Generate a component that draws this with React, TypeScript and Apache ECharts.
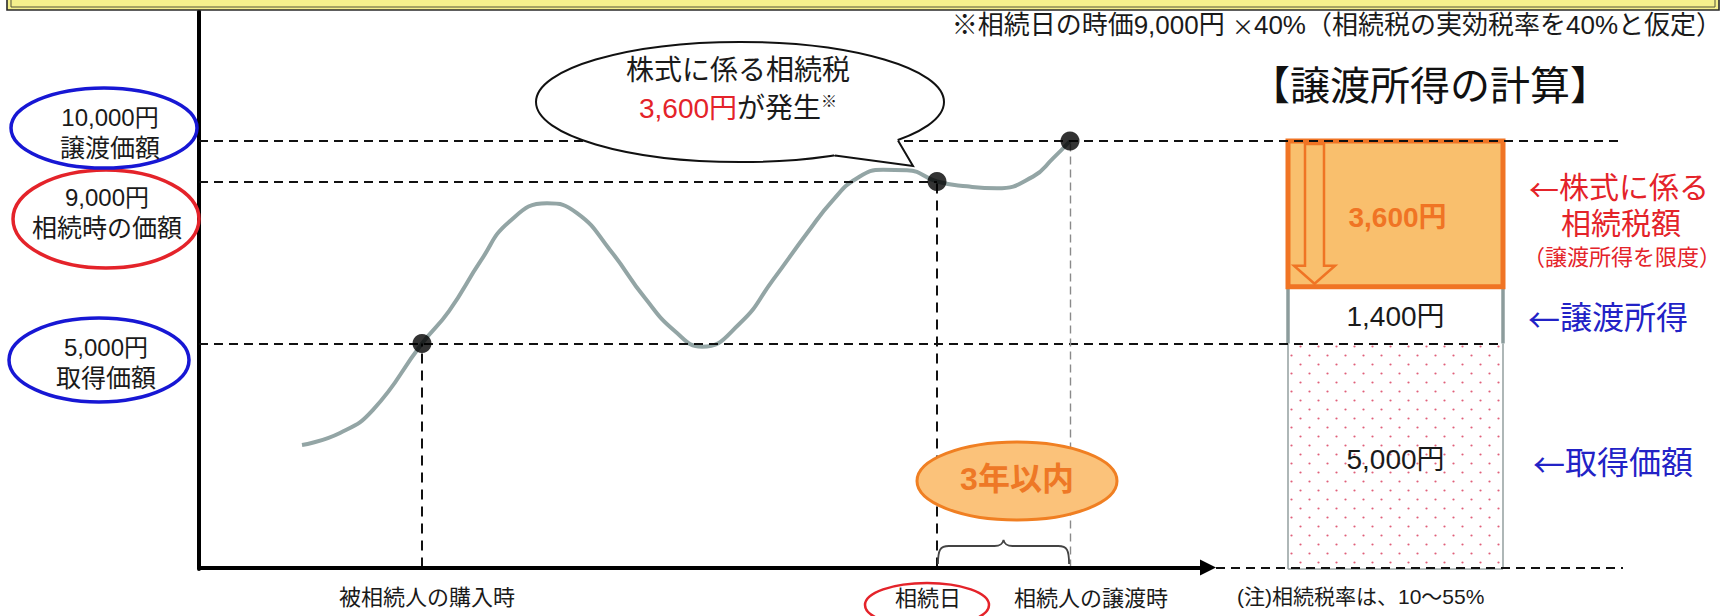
import { useEffect, useRef } from 'react';
import * as echarts from 'echarts';

// ---- data -------------------------------------------------------------
// Share price path over time (time in arbitrary units, price in yen)
const CURVE_T = [10.3, 14.1, 17.4, 22.3, 25.0, 28.2, 31.0, 34.8, 37.8, 41.1, 44.6, 47.6, 50.3, 54.1, 57.4, 60.8, 63.4, 65.8, 68.4, 70.8, 73.8, 76.8, 79.8, 83.4, 85.4, 87.1];
const CURVE_V = [2490, 2790, 3360, 5000, 5800, 7050, 8000, 8460, 8220, 7310, 6120, 5300, 4920, 5500, 6570, 7720, 8540, 9080, 9290, 9280, 9000, 8880, 8830, 9120, 9570, 10000];

// Purchase by the deceased, date of inheritance, sale by the heir
const EVENT_NAMES = ['被相続人の購入時', '相続日', '相続人の譲渡時'];
const EVENT_T = [22.3, 73.8, 87.1];
const EVENT_V = [5000, 9000, 10000];
const PRICE_NAMES = ['取得価額', '相続時の価額', '譲渡価額'];

// Breakdown of the sale price (bottom to top)
const PART_NAMES = ['取得価額', '譲渡所得', '株式に係る\n相続税額'];
const PART_V = [5000, 1400, 3600];

const TITLE = '【譲渡所得の計算】';
const TAX_NOTE_HEAD = '※相続日の時価9,000円 ';
const TAX_NOTE_TAIL = '40%（相続税の実効税率を40%と仮定）';
const RATE_NOTE = '(注)相続税率は、10〜55%';
const LIMIT_NOTE = '（譲渡所得を限度）';
const PERIOD = '3年以内';
const BUBBLE_LINE1 = '株式に係る相続税';
const BUBBLE_LINE2 = 'が発生';

// ---- layout -----------------------------------------------------------
// Latin glyphs come from Liberation Sans, Japanese from Noto Sans CJK JP
const FONT = '"Liberation Sans", "Noto Sans CJK JP", sans-serif';
const CJK = '"Noto Sans CJK JP", sans-serif';
const Y_MIN = -570;
const Y_MAX = 13200;
const X_MAX = 150;
const GRID = { left: 199, right: 27, top: 11.4, bottom: 47 };
const BAR_X = [108.9, 130.4];
const LONG_GUIDE_END = 142.4;
const ACQ_GUIDE_END = 130.1;
const ARROW_END = 100.9;
const BASE_V = Y_MIN + 40; // level of the time axis

const BLUE = '#1717d4';
const RED = '#e4232a';
const ORANGE = '#f07424';
const ORANGE_FILL = '#f9bf6d';
const TEXT_BLUE = '#2222c6';

const BRACE_D = 'M1,24 C1,10 3,6 12,6 L58,6 C64,6 66,4 67,0 C68,4 70,6 76,6 L122,6 C131,6 133,10 133,24';
echarts.graphic.registerShape('brace', echarts.graphic.extendPath(BRACE_D, {}));

const yen = (v: number) => String(v).replace(/\B(?=(\d{3})+(?!\d))/g, ',') + '円';

function dotPattern() {
  const c = document.createElement('canvas');
  c.width = 18;
  c.height = 18;
  const ctx = c.getContext('2d')!;
  ctx.fillStyle = '#e0607a';
  [[4.5, 4.5], [13.5, 13.5]].forEach(([x, y]) => {
    ctx.beginPath();
    ctx.arc(x, y, 1.1, 0, Math.PI * 2);
    ctx.fill();
  });
  return c;
}

function seg(a: number[], b: number[], style: any, endSymbol = 'none', endSize: any = 0) {
  return [
    { coord: a, symbol: 'none', lineStyle: style },
    { coord: b, symbol: endSymbol, symbolSize: endSize },
  ];
}

function labelText(x: number, y: number, text: string, fill: string, fontSize: number, extra: any = {}) {
  return {
    type: 'text', x, y, z2: 10,
    style: { text, fill, fontSize, fontFamily: FONT, align: 'center', verticalAlign: 'middle', ...extra },
  };
}

// label with a full-width leading arrow pointing back at the bar
function arrowLabel(x: number, y: number, text: string, fill: string, fontSize: number) {
  return {
    type: 'text', x, y, z2: 10,
    style: {
      text: `{a|←}{t|${text}}`,
      align: 'center',
      verticalAlign: 'middle',
      rich: {
        a: { fill, fontSize, fontFamily: CJK },
        t: { fill, fontSize, fontFamily: FONT },
      },
    },
  };
}

function buildOption() {
  const dash = { color: '#111', width: 2.2, type: [9, 6] };
  const dashV = { color: '#111', width: 2, type: [10, 7] };
  const dashGray = { color: '#8a8a8a', width: 1.4, type: [8, 5] };
  const axisStyle = { color: '#000', width: 4, type: 'solid' };
  const pattern = dotPattern();

  const guides = {
    type: 'line',
    data: EVENT_T.map((t, i) => [t, EVENT_V[i]]),
    showSymbol: false,
    lineStyle: { opacity: 0 },
    silent: true,
    z: 1,
    markLine: {
      silent: true,
      symbol: ['none', 'none'],
      label: { show: false },
      emphasis: { disabled: true },
      data: [
        seg([0, EVENT_V[2]], [LONG_GUIDE_END, EVENT_V[2]], dash),
        seg([0, EVENT_V[1]], [EVENT_T[1], EVENT_V[1]], dash),
        seg([0, EVENT_V[0]], [ACQ_GUIDE_END, EVENT_V[0]], dash),
        seg([EVENT_T[0], BASE_V], [EVENT_T[0], EVENT_V[0]], dashV),
        seg([EVENT_T[1], BASE_V], [EVENT_T[1], EVENT_V[1]], dashV),
        seg([EVENT_T[2], BASE_V], [EVENT_T[2], EVENT_V[2]], dashGray),
        seg([ARROW_END + 0.8, BASE_V], [LONG_GUIDE_END, BASE_V], dash),
        seg([0, BASE_V], [ARROW_END, BASE_V], axisStyle, 'triangle', [16, 16]),
      ],
    },
  };

  const curve = {
    type: 'line',
    data: CURVE_T.map((t, i) => [t, CURVE_V[i]]),
    smooth: 0.5,
    showSymbol: false,
    silent: true,
    lineStyle: { color: '#93a5a5', width: 4 },
    z: 3,
  };

  const dots = {
    type: 'scatter',
    data: EVENT_T.map((t, i) => [t, EVENT_V[i]]),
    symbolSize: 19,
    itemStyle: { color: '#000' },
    silent: true,
    z: 5,
  };

  const breakdown = {
    type: 'custom',
    coordinateSystem: 'cartesian2d',
    data: PART_V.map((v) => [BAR_X[0], v]),
    silent: true,
    z: 4,
    renderItem: (params: any, api: any) => {
      const i = params.dataIndex;
      const base = PART_V.slice(0, i).reduce((a, b) => a + b, 0);
      const lo = i === 0 ? Y_MIN : base;
      const hi = base + PART_V[i];
      const tl = api.coord([BAR_X[0], hi]);
      const br = api.coord([BAR_X[1], lo]);
      const x = tl[0];
      const y = tl[1];
      const w = br[0] - tl[0];
      const h = br[1] - tl[1];
      const cx = x + w / 2;
      const cy = y + h / 2;
      const children: any[] = [];
      if (i === 0) {
        children.push({ type: 'rect', shape: { x, y, width: w, height: h }, style: { fill: { image: pattern, repeat: 'repeat' }, stroke: null } });
        const side = { stroke: '#9aa5a5', lineWidth: 1.6 };
        children.push({ type: 'line', shape: { x1: x, y1: y, x2: x, y2: y + h }, style: side });
        children.push({ type: 'line', shape: { x1: x + w, y1: y, x2: x + w, y2: y + h }, style: side });
        children.push({ type: 'line', shape: { x1: x, y1: y + h, x2: x + w, y2: y + h }, style: side });
        children.push(labelText(cx, cy + 3, yen(PART_V[i]), '#1a1a1a', 28));
        children.push(arrowLabel(x + w + 110, cy + 7, PART_NAMES[i], TEXT_BLUE, 32));
      } else if (i === 1) {
        children.push({ type: 'rect', shape: { x, y, width: w, height: h - 1.5 }, style: { fill: '#fff' } });
        const side = { stroke: '#8c9c9c', lineWidth: 3.5 };
        children.push({ type: 'line', shape: { x1: x, y1: y, x2: x, y2: y + h }, style: side });
        children.push({ type: 'line', shape: { x1: x + w, y1: y, x2: x + w, y2: y + h }, style: side });
        children.push(labelText(cx, cy + 1, yen(PART_V[i]), '#1a1a1a', 28));
        children.push(arrowLabel(x + w + 105, cy + 3, PART_NAMES[i], TEXT_BLUE, 32));
      } else {
        children.push({ type: 'rect', shape: { x, y, width: w, height: h }, style: { fill: ORANGE_FILL, stroke: ORANGE, lineWidth: 5 } });
        children.push({
          type: 'polygon',
          shape: {
            points: [
              [x + 17, y + 3], [x + 36, y + 3], [x + 36, y + h - 21], [x + 47, y + h - 21],
              [x + 26.5, y + h - 3], [x + 6, y + h - 21], [x + 17, y + h - 21],
            ],
          },
          style: { fill: ORANGE_FILL, stroke: ORANGE, lineWidth: 2.5 },
        });
        children.push(labelText(cx + 2, cy + 4, yen(PART_V[i]), ORANGE, 28, { fontWeight: 'bold' }));
        const lines = PART_NAMES[i].split('\n');
        children.push(arrowLabel(x + w + 116, cy - 26, lines[0], RED, 30));
        children.push(labelText(x + w + 118, cy + 10, lines[1], RED, 30));
        children.push(labelText(x + w + 119, cy + 44, LIMIT_NOTE, RED, 22));
      }
      return { type: 'group', children };
    },
  };

  return {
    animation: false,
    backgroundColor: '#ffffff',
    textStyle: { fontFamily: FONT },
    grid: { ...GRID, containLabel: false },
    xAxis: { type: 'value', min: 0, max: X_MAX, show: false },
    yAxis: {
      type: 'value',
      min: Y_MIN,
      max: Y_MAX,
      axisLine: { show: true, onZero: false, lineStyle: { color: '#000', width: 4 } },
      axisTick: { show: false },
      axisLabel: { show: false },
      splitLine: { show: false },
    },
    series: [guides, curve, breakdown, dots],
  };
}

function buildGraphic(px: (t: number, v: number) => number[]) {
  const txt = (x: number, y: number, text: string, style: any = {}, z = 20) => ({
    type: 'text', x, y, z, silent: true,
    style: { text, fontFamily: FONT, fill: '#1a1a1a', align: 'center', verticalAlign: 'middle', ...style },
  });
  const ell = (cx: number, cy: number, rx: number, ry: number, style: any, z = 8) => ({
    type: 'ellipse', z, silent: true, shape: { cx, cy, rx, ry }, style,
  });

  // value badges beside the vertical axis, in event order
  const badges = [
    { cx: 99, cy: 360, rx: 90, ry: 42, color: BLUE, tx: 106, ty: 347 },
    { cx: 106, cy: 219, rx: 93, ry: 49, color: RED, tx: 107, ty: 197 },
    { cx: 104, cy: 128, rx: 93, ry: 40, color: BLUE, tx: 110, ty: 117 },
  ];
  const badgeEls = badges.flatMap((b, i) => [
    ell(b.cx, b.cy, b.rx, b.ry, { fill: 'transparent', stroke: b.color, lineWidth: 3.5 }),
    txt(b.tx, b.ty, yen(EVENT_V[i]), { fontSize: 24 }),
    txt(b.tx, b.ty + 31, PRICE_NAMES[i], { fontSize: 25 }),
  ]);

  const inh = px(EVENT_T[1], BASE_V);
  const sale = px(EVENT_T[2], BASE_V);
  const buy = px(EVENT_T[0], BASE_V);
  const braceW = sale[0] - inh[0];

  const noteFont = { fill: '#1a1a1a', fontSize: 26, fontFamily: FONT };

  return [
    // header band
    { type: 'rect', z: 30, silent: true, shape: { x: 7, y: -20, width: 1712, height: 30 }, style: { fill: '#f5f08c', stroke: '#2a2a2a', lineWidth: 1.6 } },
    { type: 'rect', z: 31, silent: true, shape: { x: 11, y: -20, width: 1704, height: 27 }, style: { fill: 'transparent', stroke: '#55553a', lineWidth: 1 } },
    txt(1722, 25, `{n|${TAX_NOTE_HEAD}}{m|×}{n|${TAX_NOTE_TAIL}}`, {
      align: 'right',
      rich: {
        n: noteFont,
        m: { ...noteFont, fontFamily: CJK, fontSize: 22 },
      },
    }),
    txt(1430, 86, TITLE, { fontSize: 40, fill: '#111' }),

    ...badgeEls,

    // speech bubble
    ell(740, 102, 204, 60, { fill: '#fff', stroke: '#111', lineWidth: 2 }, 10),
    { type: 'polygon', z: 11, silent: true, shape: { points: [[830, 150], [835, 155.6], [913, 166], [898, 140.4], [895, 135]] }, style: { fill: '#fff' } },
    { type: 'polyline', z: 12, silent: true, shape: { points: [[835, 155.6], [913, 166], [898, 140.4]] }, style: { fill: 'none', stroke: '#111', lineWidth: 2 } },
    txt(738, 70, BUBBLE_LINE1, { fontSize: 28 }),
    txt(738, 108, `{r|${yen(PART_V[2])}}{k|${BUBBLE_LINE2}}{s|※}`, {
      rich: {
        r: { fill: RED, fontSize: 28, fontFamily: FONT },
        k: { fill: '#1a1a1a', fontSize: 28, fontFamily: FONT },
        s: { fill: '#1a1a1a', fontSize: 16, fontFamily: FONT, padding: [0, 0, 14, 0] },
      },
    }),

    // holding period
    ell(1017, 481, 100, 39, { fill: '#fbc27a', stroke: '#f07f22', lineWidth: 3 }, 10),
    txt(1017, 479, PERIOD, { fontSize: 32, fontWeight: 'bold', fill: '#ee7826' }),
    {
      type: 'brace', z: 10, silent: true,
      x: inh[0], y: 540, scaleX: braceW / 134, scaleY: 1,
      style: { fill: 'none', stroke: '#444', lineWidth: 1.8, strokeNoScale: true },
    },

    // time labels under the axis
    txt(buy[0] + 5, 597, EVENT_NAMES[0], { fontSize: 22 }),
    ell(inh[0] - 10, 605, 62, 22, { fill: 'transparent', stroke: RED, lineWidth: 2.5 }),
    txt(inh[0] - 9, 598, EVENT_NAMES[1], { fontSize: 22 }),
    txt(sale[0] + 21, 598, EVENT_NAMES[2], { fontSize: 22 }),
    txt(1237, 596, RATE_NOTE, { fontSize: 21, align: 'left' }),
  ];
}

export default function App() {
  const ref = useRef<HTMLDivElement>(null);
  useEffect(() => {
    const chart = echarts.init(ref.current!, null, { renderer: 'svg' });
    chart.setOption(buildOption() as any);
    const px = (t: number, v: number) => chart.convertToPixel({ gridIndex: 0 }, [t, v]) as number[];
    chart.setOption({ graphic: buildGraphic(px) } as any);
    return () => chart.dispose();
  }, []);
  return (
    <div
      ref={ref}
      style={{ position: 'fixed', left: 0, top: 0, width: 1726, height: 616, background: '#fff' }}
    />
  );
}
